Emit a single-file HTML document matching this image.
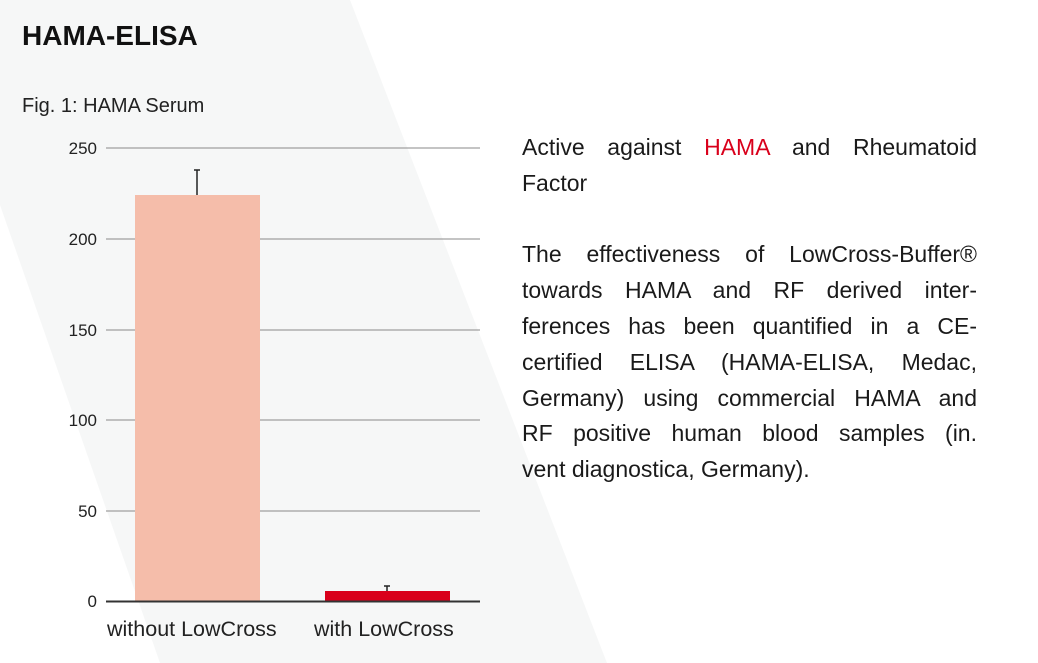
<!DOCTYPE html>
<html><head><style>
body{margin:0;width:1038px;height:663px;overflow:hidden;background:#fff;font-family:"Liberation Sans",sans-serif;position:relative}
svg{position:absolute;left:0;top:0}
.txt{position:absolute;left:522px;top:130px;width:455px;font-size:23px;line-height:35.8px;color:#1a1a1a}
.j{text-align:justify;text-align-last:justify;white-space:nowrap}
.l{text-align:left}
</style></head><body>
<svg width="1038" height="663">
<polygon points="0,0 350,0 607,663 160,663 0,205" fill="#f6f7f7"/>
<text x="22" y="45" font-size="28" font-weight="bold" fill="#111">HAMA-ELISA</text>
<text x="22" y="112" font-size="20" fill="#222">Fig. 1: HAMA Serum</text>
<g stroke="#a0a0a0" stroke-width="1.3">
<line x1="106" x2="480" y1="148" y2="148"/>
<line x1="106" x2="480" y1="239" y2="239"/>
<line x1="106" x2="480" y1="330" y2="330"/>
<line x1="106" x2="480" y1="420" y2="420"/>
<line x1="106" x2="480" y1="511" y2="511"/>
</g>
<g font-size="17" fill="#222" text-anchor="end">
<text x="97" y="154">250</text><text x="97" y="245">200</text><text x="97" y="336">150</text>
<text x="97" y="426">100</text><text x="97" y="517">50</text><text x="97" y="607">0</text>
</g>
<rect x="135" y="195" width="125" height="406" fill="#f5bdaa"/>
<rect x="325" y="591" width="125" height="10" fill="#d9001b"/>
<g stroke="#222" stroke-width="1.5">
<line x1="197" x2="197" y1="170" y2="195"/><line x1="194" x2="200" y1="170" y2="170"/>
<line x1="387" x2="387" y1="586" y2="591"/><line x1="384" x2="390" y1="586" y2="586"/>
</g>
<line x1="106" x2="480" y1="601.5" y2="601.5" stroke="#333" stroke-width="2"/>
<text x="107" y="636" font-size="21.5" fill="#222">without LowCross</text>
<text x="314" y="636" font-size="21.5" fill="#222">with LowCross</text>
</svg>
<div class="txt">
<div class="j">Active against <span style="color:#d9001b">HAMA</span> and Rheumatoid</div>
<div class="l">Factor</div>
<div class="l">&nbsp;</div>
<div class="j">The effectiveness of LowCross-Buffer®</div>
<div class="j">towards HAMA and RF derived inter-</div>
<div class="j">ferences has been quantified in a CE-</div>
<div class="j">certified ELISA (HAMA-ELISA, Medac,</div>
<div class="j">Germany) using commercial HAMA and</div>
<div class="j">RF positive human blood samples (in.</div>
<div class="l">vent diagnostica, Germany).</div>
</div>
</body></html>
